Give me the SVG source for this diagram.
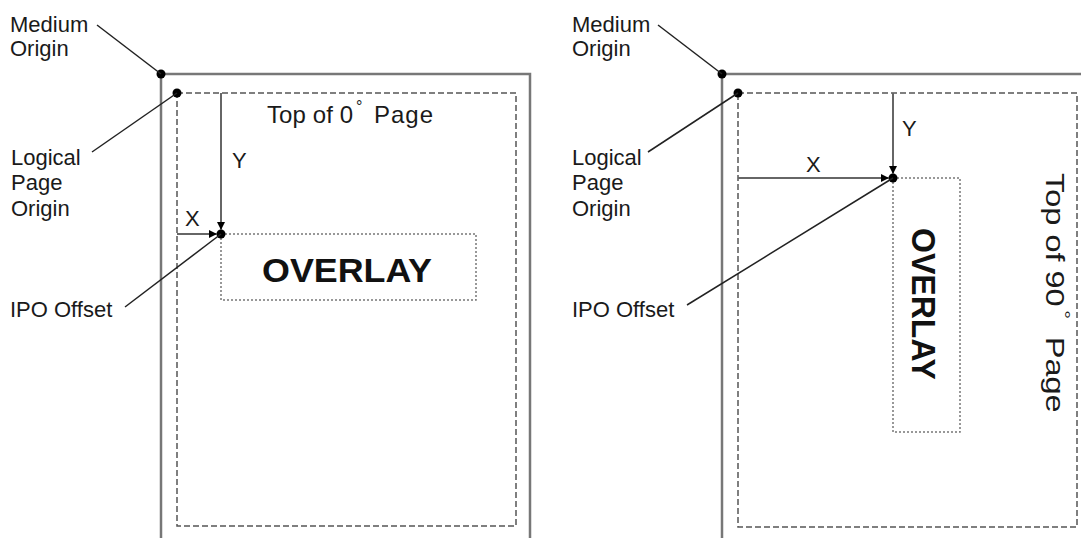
<svg xmlns="http://www.w3.org/2000/svg" width="1081" height="538" viewBox="0 0 1081 538">
<style>
.lbl{font-family:"Liberation Sans",Arial,sans-serif;font-size:22px;fill:#1a1a1a}
.big{font-family:"Liberation Sans",Arial,sans-serif;font-size:34px;font-weight:bold;fill:#111}
.top{font-family:"Liberation Sans",Arial,sans-serif;font-size:24px;fill:#1a1a1a}
.deg{font-family:"Liberation Sans",Arial,sans-serif;font-size:16px;fill:#1a1a1a}
.medium{fill:none;stroke:#777;stroke-width:2.5}
.logical{fill:none;stroke:#555;stroke-width:1.5;stroke-dasharray:6 3}
.overlay{fill:none;stroke:#777;stroke-width:1.5;stroke-dasharray:2 2}
.meas{fill:none;stroke:#666;stroke-width:2}
.lead{fill:none;stroke:#222;stroke-width:1.5}
.dot{fill:#000}
</style>
<defs>
<marker id="arr" viewBox="0 0 8 8" refX="8" refY="4" markerWidth="8" markerHeight="8" markerUnits="userSpaceOnUse" orient="auto">
<path d="M0,0 L8,4 L0,8 z" fill="#000"/>
</marker>
</defs>
<rect width="1081" height="538" fill="#fff"/>

<!-- Left panel -->
<g id="left-medium">
<path class="medium" d="M161,538 V74 H530 V538"/>
<circle class="dot" cx="161" cy="74" r="4.5"/>
</g>
<g id="left-logical-page">
<rect class="logical" x="177" y="93" width="339" height="433"/>
<circle class="dot" cx="177" cy="93" r="4.5"/>
<text class="top" x="267" y="123" textLength="86" lengthAdjust="spacing">Top of 0</text>
<text class="deg" x="356" y="112">°</text>
<text class="top" x="374" y="123" textLength="59" lengthAdjust="spacing">Page</text>
</g>
<g id="left-overlay">
<rect class="overlay" x="221" y="234" width="255" height="66"/>
<text class="big" x="262" y="282" textLength="170" lengthAdjust="spacingAndGlyphs">OVERLAY</text>
<circle class="dot" cx="221" cy="234" r="4.5"/>
</g>
<g id="left-labels">
<text class="lbl" x="10" y="32">Medium</text>
<text class="lbl" x="10" y="56">Origin</text>
<text class="lbl" x="11" y="165">Logical</text>
<text class="lbl" x="11" y="190">Page</text>
<text class="lbl" x="11" y="216">Origin</text>
<text class="lbl" x="10" y="317">IPO Offset</text>
<text class="lbl" x="185" y="226">X</text>
<text class="lbl" x="232" y="168">Y</text>
</g>

<!-- Right panel -->
<g id="right-medium">
<path class="medium" d="M722,538 V74 H1081"/>
<circle class="dot" cx="722" cy="74" r="4.5"/>
</g>
<g id="right-logical-page">
<rect class="logical" x="738" y="93" width="339" height="434"/>
<circle class="dot" cx="738" cy="93" r="4.5"/>
<g transform="translate(1046,173) rotate(90) scale(1.3,1)">
<text class="top" x="0" y="0" style="font-size:25px">Top of 90</text>
<text class="deg" x="105.5" y="-12" style="font-size:17px">°</text>
<text class="top" x="126" y="0" style="font-size:25px">Page</text>
</g>
</g>
<g id="right-overlay">
<rect class="overlay" x="893" y="178" width="67" height="254"/>
<text class="big" transform="translate(912,228) rotate(90)" x="0" y="0" textLength="152" lengthAdjust="spacingAndGlyphs">OVERLAY</text>
<circle class="dot" cx="893" cy="178" r="4.5"/>
</g>
<g id="right-labels">
<text class="lbl" x="572" y="32">Medium</text>
<text class="lbl" x="572" y="56">Origin</text>
<text class="lbl" x="572" y="165">Logical</text>
<text class="lbl" x="572" y="190">Page</text>
<text class="lbl" x="572" y="216">Origin</text>
<text class="lbl" x="572" y="317">IPO Offset</text>
<text class="lbl" x="806" y="172">X</text>
<text class="lbl" x="902" y="136">Y</text>
</g>

<g id="connectors">
<!-- left -->
<line class="lead" x1="97" y1="25" x2="161" y2="74"/>
<line class="lead" x1="92" y1="152" x2="177" y2="93"/>
<line class="lead" x1="125" y1="307" x2="221" y2="234"/>
<line class="meas" x1="221" y1="93" x2="221" y2="230" marker-end="url(#arr)"/>
<line class="meas" x1="177" y1="234" x2="217" y2="234" marker-end="url(#arr)"/>
<!-- right -->
<line class="lead" x1="658" y1="25" x2="722" y2="74"/>
<line class="lead" x1="648" y1="152" x2="738" y2="93"/>
<line class="lead" x1="687" y1="305" x2="893" y2="178"/>
<line class="meas" x1="893" y1="93" x2="893" y2="174" marker-end="url(#arr)"/>
<line class="meas" x1="738" y1="178" x2="889" y2="178" marker-end="url(#arr)"/>
</g>
</svg>
